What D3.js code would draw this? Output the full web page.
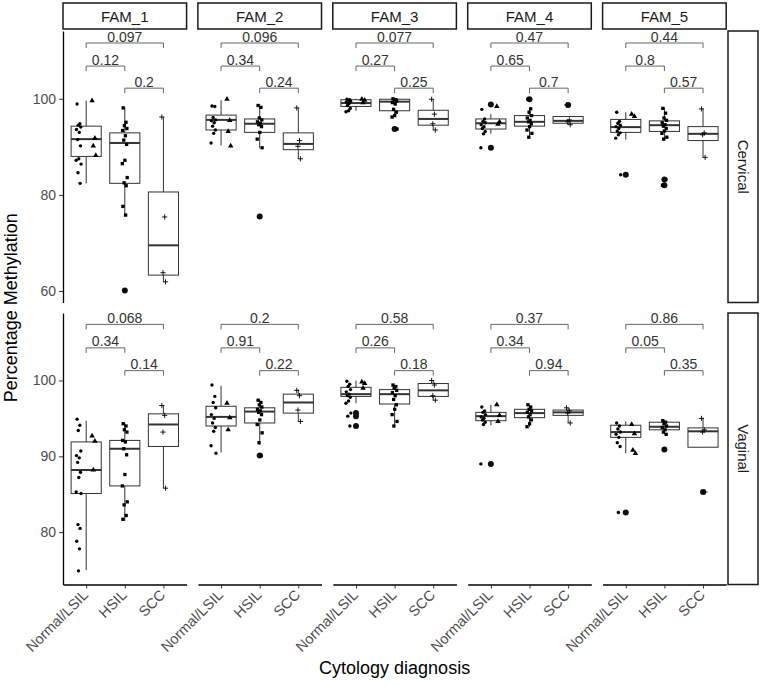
<!DOCTYPE html>
<html>
<head>
<meta charset="utf-8">
<script src="https://cdn.jsdelivr.net/npm/d3@7"></script>
<style>
  body { margin: 0; background: #fff; }
  text { font-family: "Liberation Sans", Arial, sans-serif; }
</style>
</head>
<body>
<svg id="chart" width="761" height="686"></svg>
<script>
// --- categories ---
const fams = ["FAM_1", "FAM_2", "FAM_3", "FAM_4", "FAM_5"];
const sites = ["Cervical", "Vaginal"];
const groups = ["Normal/LSIL", "HSIL", "SCC"];

// --- y axis ticks and limits per row ---
const cervicalTicks = [60, 80, 100];
const vaginalTicks = [80, 90, 100];
const cervicalLimits = [57.6, 114.1];
const vaginalLimits = [73.1, 108.9];

// --- box stats: site, fam, group, lower whisker, q1, median, q3, upper whisker ---
const boxStats = [
  ["Cervical", "FAM_1", "Normal/LSIL", 82.4, 88.0, 91.6, 94.3, 99.6],
  ["Cervical", "FAM_1", "HSIL",        75.5, 82.4, 90.8, 92.9, 98.2],
  ["Cervical", "FAM_1", "SCC",         61.9, 63.3, 69.5, 80.6, 96.2],
  ["Cervical", "FAM_2", "Normal/LSIL", 90.3, 93.5, 95.6, 96.6, 99.7],
  ["Cervical", "FAM_2", "HSIL",        89.7, 93.0, 94.8, 95.8, 98.8],
  ["Cervical", "FAM_2", "SCC",         87.5, 89.4, 90.6, 92.9, 98.1],
  ["Cervical", "FAM_3", "Normal/LSIL", 97.5, 98.4, 99.1, 99.8, 100.0],
  ["Cervical", "FAM_3", "HSIL",        96.2, 97.5, 99.4, 99.9, 100.0],
  ["Cervical", "FAM_3", "SCC",         93.5, 94.5, 95.8, 97.6, 99.9],
  ["Cervical", "FAM_4", "Normal/LSIL", 92.7, 93.7, 94.9, 95.8, 96.8],
  ["Cervical", "FAM_4", "HSIL",        92.0, 94.3, 95.2, 96.5, 97.9],
  ["Cervical", "FAM_4", "SCC",         94.6, 94.9, 95.4, 96.3, 96.3],
  ["Cervical", "FAM_5", "Normal/LSIL", 91.5, 93.0, 94.1, 95.7, 97.2],
  ["Cervical", "FAM_5", "HSIL",        91.6, 93.2, 94.5, 95.4, 98.2],
  ["Cervical", "FAM_5", "SCC",         87.8, 91.3, 92.7, 94.2, 97.9],
  ["Vaginal",  "FAM_1", "Normal/LSIL", 75.0, 85.1, 88.2, 91.9, 94.7],
  ["Vaginal",  "FAM_1", "HSIL",        81.5, 86.1, 91.0, 92.1, 94.4],
  ["Vaginal",  "FAM_1", "SCC",         85.8, 91.3, 94.2, 95.6, 96.7],
  ["Vaginal",  "FAM_2", "Normal/LSIL", 90.5, 94.0, 95.2, 96.6, 99.3],
  ["Vaginal",  "FAM_2", "HSIL",        91.5, 94.4, 95.9, 96.4, 97.5],
  ["Vaginal",  "FAM_2", "SCC",         94.6, 95.7, 97.1, 98.2, 98.8],
  ["Vaginal",  "FAM_3", "Normal/LSIL", 97.0, 97.9, 98.2, 99.1, 100.0],
  ["Vaginal",  "FAM_3", "HSIL",        94.0, 96.9, 98.2, 98.8, 99.4],
  ["Vaginal",  "FAM_3", "SCC",         97.4, 97.9, 98.7, 99.6, 100.0],
  ["Vaginal",  "FAM_4", "Normal/LSIL", 94.1, 94.7, 95.3, 95.8, 96.8],
  ["Vaginal",  "FAM_4", "HSIL",        93.9, 95.1, 95.7, 96.2, 96.8],
  ["Vaginal",  "FAM_4", "SCC",         94.4, 95.4, 95.8, 96.1, 96.4],
  ["Vaginal",  "FAM_5", "Normal/LSIL", 90.4, 92.5, 93.2, 94.1, 94.6],
  ["Vaginal",  "FAM_5", "HSIL",        92.9, 93.5, 93.9, 94.5, 94.7],
  ["Vaginal",  "FAM_5", "SCC",         91.2, 91.2, 93.3, 93.75, 95.1]
];

// --- boxplot outliers: site, fam, group, value ---
const outliers = [
  ["Cervical", "FAM_1", "HSIL", 60.1],
  ["Cervical", "FAM_2", "HSIL", 75.5],
  ["Cervical", "FAM_3", "HSIL", 93.7],
  ["Cervical", "FAM_4", "Normal/LSIL", 98.8],
  ["Cervical", "FAM_4", "Normal/LSIL", 89.8],
  ["Cervical", "FAM_4", "HSIL", 99.9],
  ["Cervical", "FAM_4", "SCC", 98.7],
  ["Cervical", "FAM_5", "Normal/LSIL", 84.2],
  ["Cervical", "FAM_5", "HSIL", 83.2],
  ["Cervical", "FAM_5", "HSIL", 82.0],
  ["Vaginal", "FAM_2", "HSIL", 90.1],
  ["Vaginal", "FAM_3", "Normal/LSIL", 95.7],
  ["Vaginal", "FAM_3", "Normal/LSIL", 95.3],
  ["Vaginal", "FAM_3", "Normal/LSIL", 94.0],
  ["Vaginal", "FAM_4", "Normal/LSIL", 89.0],
  ["Vaginal", "FAM_5", "Normal/LSIL", 82.6],
  ["Vaginal", "FAM_5", "HSIL", 90.9],
  ["Vaginal", "FAM_5", "SCC", 85.3]
];

// --- jittered samples: site, fam, group, shape (Normal / LSIL / HSIL / SCC), values ---
const samples = [
  ["Cervical", "FAM_1", "Normal/LSIL", "Normal", [98.9, 94.8, 94.5, 94.1, 93.6, 93.0, 91.5, 90.2, 87.5, 87.2, 86.4, 84.6, 82.4]],
  ["Cervical", "FAM_1", "Normal/LSIL", "LSIL",   [99.6, 91.8, 90.2, 88.2]],
  ["Cervical", "FAM_1", "HSIL", "HSIL", [98.1, 95.1, 94.4, 93.8, 93.4, 92.3, 91.4, 90.5, 87.2, 86.5, 83.6, 82.5, 81.9, 77.6, 75.8, 60.1]],
  ["Cervical", "FAM_1", "SCC", "SCC",   [96.2, 75.4, 63.8, 61.9]],
  ["Cervical", "FAM_2", "Normal/LSIL", "Normal", [98.5, 98.4, 96.1, 95.6, 95.4, 95.0, 94.3, 93.5, 92.8, 90.8]],
  ["Cervical", "FAM_2", "Normal/LSIL", "LSIL",   [99.9, 95.5, 93.2, 90.2]],
  ["Cervical", "FAM_2", "HSIL", "HSIL", [98.6, 98.2, 96.0, 95.6, 95.2, 94.9, 94.6, 94.2, 93.0, 91.6, 89.8, 75.5]],
  ["Cervical", "FAM_2", "SCC", "SCC",   [98.1, 91.3, 90.1, 87.5]],
  ["Cervical", "FAM_3", "Normal/LSIL", "Normal", [99.9, 99.8, 99.7, 99.5, 99.3, 99.0, 98.6, 98.0, 97.5, 97.3]],
  ["Cervical", "FAM_3", "Normal/LSIL", "LSIL",   [99.9, 99.7, 99.2]],
  ["Cervical", "FAM_3", "HSIL", "HSIL", [100.0, 99.8, 99.6, 99.5, 99.2, 98.9, 97.8, 97.2, 96.5, 96.2, 93.7]],
  ["Cervical", "FAM_3", "SCC", "SCC",   [99.9, 96.8, 94.8, 93.5]],
  ["Cervical", "FAM_4", "Normal/LSIL", "Normal", [97.8, 95.8, 95.3, 95.0, 94.6, 94.2, 93.8, 93.2, 92.7, 89.8]],
  ["Cervical", "FAM_4", "Normal/LSIL", "LSIL",   [98.4, 95.2, 94.7]],
  ["Cervical", "FAM_4", "HSIL", "HSIL", [99.9, 97.9, 97.2, 96.5, 96.0, 95.5, 95.2, 94.8, 94.2, 93.5, 92.8, 92.0]],
  ["Cervical", "FAM_4", "SCC", "SCC",   [98.7, 95.6, 95.2, 94.6]],
  ["Cervical", "FAM_5", "Normal/LSIL", "Normal", [97.2, 95.3, 94.9, 94.5, 94.2, 93.8, 93.3, 92.9, 92.5, 91.8, 84.2]],
  ["Cervical", "FAM_5", "Normal/LSIL", "LSIL",   [96.8, 96.3]],
  ["Cervical", "FAM_5", "HSIL", "HSIL", [98.0, 97.0, 96.0, 95.5, 95.0, 94.6, 94.3, 93.8, 93.3, 92.8, 92.0, 91.6, 83.2, 82.0]],
  ["Cervical", "FAM_5", "SCC", "SCC",   [97.9, 92.9, 92.5, 87.8]],
  ["Vaginal", "FAM_1", "Normal/LSIL", "Normal", [94.9, 94.1, 93.4, 90.7, 90.1, 89.8, 89.2, 87.9, 87.2, 85.3, 85.1, 81.0, 80.5, 78.8, 77.8, 74.9]],
  ["Vaginal", "FAM_1", "Normal/LSIL", "LSIL",   [92.7, 92.0, 88.2]],
  ["Vaginal", "FAM_1", "HSIL", "HSIL", [94.3, 94.0, 93.5, 93.2, 92.1, 91.9, 91.0, 90.2, 87.6, 86.1, 84.0, 83.6, 82.2, 81.7]],
  ["Vaginal", "FAM_1", "SCC", "SCC",   [96.7, 95.4, 93.2, 85.8]],
  ["Vaginal", "FAM_2", "Normal/LSIL", "Normal", [99.4, 97.9, 97.1, 96.4, 95.5, 95.0, 94.4, 93.8, 93.3, 91.4, 90.4]],
  ["Vaginal", "FAM_2", "Normal/LSIL", "LSIL",   [97.0, 95.1, 93.5]],
  ["Vaginal", "FAM_2", "HSIL", "HSIL", [97.4, 97.1, 96.8, 96.5, 96.2, 96.0, 95.8, 95.5, 94.8, 94.2, 93.1, 91.8, 90.1]],
  ["Vaginal", "FAM_2", "SCC", "SCC",   [98.7, 98.0, 96.1, 94.6]],
  ["Vaginal", "FAM_3", "Normal/LSIL", "Normal", [99.9, 99.5, 99.2, 98.8, 98.5, 98.2, 98.0, 97.8, 97.3, 97.0, 95.7, 95.3, 94.0]],
  ["Vaginal", "FAM_3", "Normal/LSIL", "LSIL",   [99.8, 99.6, 99.0]],
  ["Vaginal", "FAM_3", "HSIL", "HSIL", [99.4, 99.2, 99.0, 98.7, 98.4, 98.0, 97.5, 96.8, 96.2, 95.5, 94.6, 94.0]],
  ["Vaginal", "FAM_3", "SCC", "SCC",   [100.0, 99.4, 98.0, 97.4]],
  ["Vaginal", "FAM_4", "Normal/LSIL", "Normal", [96.5, 96.0, 95.8, 95.5, 95.2, 95.0, 94.8, 94.5, 94.2, 89.0]],
  ["Vaginal", "FAM_4", "Normal/LSIL", "LSIL",   [96.8, 95.4, 94.6]],
  ["Vaginal", "FAM_4", "HSIL", "HSIL", [96.8, 96.5, 96.2, 96.0, 95.8, 95.5, 95.2, 94.8, 94.3, 93.9]],
  ["Vaginal", "FAM_4", "SCC", "SCC",   [96.4, 96.0, 95.7, 94.4]],
  ["Vaginal", "FAM_5", "Normal/LSIL", "Normal", [94.4, 94.0, 93.6, 93.2, 92.9, 92.5, 91.8, 91.3, 82.6]],
  ["Vaginal", "FAM_5", "Normal/LSIL", "LSIL",   [94.2, 93.0, 90.8, 90.4]],
  ["Vaginal", "FAM_5", "HSIL", "HSIL", [94.7, 94.5, 94.3, 94.0, 93.8, 93.5, 93.2, 92.9, 90.9]],
  ["Vaginal", "FAM_5", "SCC", "SCC",   [95.0, 93.5, 93.2, 85.3]]
];

// --- p-values: site, fam, [Normal/LSIL vs SCC, Normal/LSIL vs HSIL, HSIL vs SCC] ---
const comparisons = [["Normal/LSIL", "SCC"], ["Normal/LSIL", "HSIL"], ["HSIL", "SCC"]];
const cervicalBracketY = [111.6, 106.8, 102.2];
const vaginalBracketY = [107.4, 104.3, 101.3];
const pValues = [
  ["Cervical", "FAM_1", ["0.097", "0.12", "0.2"]],
  ["Cervical", "FAM_2", ["0.096", "0.34", "0.24"]],
  ["Cervical", "FAM_3", ["0.077", "0.27", "0.25"]],
  ["Cervical", "FAM_4", ["0.47", "0.65", "0.7"]],
  ["Cervical", "FAM_5", ["0.44", "0.8", "0.57"]],
  ["Vaginal",  "FAM_1", ["0.068", "0.34", "0.14"]],
  ["Vaginal",  "FAM_2", ["0.2", "0.91", "0.22"]],
  ["Vaginal",  "FAM_3", ["0.58", "0.26", "0.18"]],
  ["Vaginal",  "FAM_4", ["0.37", "0.34", "0.94"]],
  ["Vaginal",  "FAM_5", ["0.86", "0.05", "0.35"]]
];

// --- layout ---
const svg = d3.select("#chart");
const panelLeft = 63, panelW = 123.6, gapX = 11.3;
const rowTop = {Cervical: 31, Vaginal: 313}, rowH = 271.5;
const stripTop = 3, stripH = 26, stripRightX = 728, stripRightW = 30;
const jitter = [-1.6, 1.2, -0.4, 2.1, -2.2, 0.6, -1.0, 1.8, 0.1, -2.5, 2.4, -0.7, 1.4, -1.9, 0.8, -0.2];
const dodge = {Normal: -7.5, LSIL: 7.5, HSIL: 0, SCC: 0};

const x = d3.scalePoint().domain(groups).range([0, panelW]).padding(0.6);
const boxW = x.step() * 0.78;

const yScale = {
  Cervical: d3.scaleLinear().domain(cervicalLimits).range([rowTop.Cervical + rowH, rowTop.Cervical]),
  Vaginal: d3.scaleLinear().domain(vaginalLimits).range([rowTop.Vaginal + rowH, rowTop.Vaginal])
};
const yTicks = {Cervical: cervicalTicks, Vaginal: vaginalTicks};
const bracketY = {Cervical: cervicalBracketY, Vaginal: vaginalBracketY};
const panelX = f => panelLeft + fams.indexOf(f) * (panelW + gapX);

// --- top strips ---
fams.forEach(f => {
  svg.append("rect")
    .attr("x", panelX(f)).attr("y", stripTop)
    .attr("width", panelW).attr("height", stripH)
    .attr("fill", "#fff").attr("stroke", "#1a1a1a").attr("stroke-width", 1.5);
  svg.append("text")
    .attr("x", panelX(f) + panelW / 2).attr("y", stripTop + stripH / 2 + 5.5)
    .attr("text-anchor", "middle").style("font-size", "15px").attr("fill", "#1a1a1a")
    .text(f);
});

// --- right strips ---
sites.forEach(s => {
  svg.append("rect")
    .attr("x", stripRightX).attr("y", rowTop[s])
    .attr("width", stripRightW).attr("height", rowH)
    .attr("fill", "#fff").attr("stroke", "#1a1a1a").attr("stroke-width", 1.5);
  svg.append("text")
    .attr("transform", `translate(${stripRightX + stripRightW / 2 - 5.5},${rowTop[s] + rowH / 2}) rotate(90)`)
    .attr("text-anchor", "middle").style("font-size", "15px").attr("fill", "#1a1a1a")
    .text(s);
});

// --- panels ---
sites.forEach(s => {
  const y = yScale[s];
  fams.forEach(f => {
    const g = svg.append("g").attr("transform", `translate(${panelX(f)},0)`);

    // boxes
    const boxes = boxStats.filter(d => d[0] === s && d[1] === f);
    boxes.forEach(d => {
      const cx = x(d[2]);
      g.append("line").attr("x1", cx).attr("x2", cx)
        .attr("y1", y(d[3])).attr("y2", y(d[7]))
        .attr("stroke", "#333").attr("stroke-width", 1);
      g.append("rect")
        .attr("x", cx - boxW / 2).attr("width", boxW)
        .attr("y", y(d[6])).attr("height", y(d[4]) - y(d[6]))
        .attr("fill", "#fff").attr("stroke", "#333").attr("stroke-width", 1);
      g.append("line").attr("x1", cx - boxW / 2).attr("x2", cx + boxW / 2)
        .attr("y1", y(d[5])).attr("y2", y(d[5]))
        .attr("stroke", "#333").attr("stroke-width", 2);
    });

    // outliers
    g.selectAll("circle.out")
      .data(outliers.filter(d => d[0] === s && d[1] === f))
      .enter().append("circle")
        .attr("class", "out")
        .attr("cx", d => x(d[2])).attr("cy", d => y(d[3]))
        .attr("r", 3).attr("fill", "#111");

    // jittered samples
    samples.filter(d => d[0] === s && d[1] === f).forEach(d => {
      const shape = d[3];
      d[4].forEach((v, i) => {
        const px = x(d[2]) + dodge[shape] + jitter[i % jitter.length];
        const py = y(v);
        if (shape === "Normal") {
          g.append("circle").attr("cx", px).attr("cy", py).attr("r", 1.7).attr("fill", "#000");
        } else if (shape === "LSIL") {
          g.append("path").attr("transform", `translate(${px},${py})`)
            .attr("d", d3.symbol().type(d3.symbolTriangle).size(13)()).attr("fill", "#000");
        } else if (shape === "HSIL") {
          g.append("path").attr("transform", `translate(${px},${py})`)
            .attr("d", d3.symbol().type(d3.symbolSquare).size(11)()).attr("fill", "#000");
        } else {
          g.append("path").attr("transform", `translate(${px},${py})`)
            .attr("d", "M-2.6,0H2.6M0,-2.6V2.6")
            .attr("stroke", "#000").attr("stroke-width", 0.9).attr("fill", "none");
        }
      });
    });

    // brackets with p-values
    const pv = pValues.find(d => d[0] === s && d[1] === f)[2];
    comparisons.forEach((c, k) => {
      const x1 = x(c[0]), x2 = x(c[1]), yb = y(bracketY[s][k]);
      g.append("path")
        .attr("d", `M${x1},${yb + 5}V${yb}H${x2}V${yb + 5}`)
        .attr("fill", "none").attr("stroke", "#555").attr("stroke-width", 0.9);
      g.append("text")
        .attr("x", (x1 + x2) / 2).attr("y", yb - 1.5)
        .attr("text-anchor", "middle").style("font-size", "14px").attr("fill", "#333")
        .text(pv[k]);
    });

    // y axis on first column
    if (f === fams[0]) {
      const ax = g.append("g")
        .call(d3.axisLeft(y).tickValues(yTicks[s]).tickSize(4).tickSizeOuter(0).tickPadding(3));
      ax.select(".domain").attr("stroke", "#000").attr("stroke-width", 1.3);
      ax.selectAll(".tick line").attr("stroke", "#333");
      ax.selectAll(".tick text").attr("fill", "#4d4d4d").style("font-size", "14px")
        .style("font-family", '"Liberation Sans", Arial, sans-serif');
    }

    // x axis on bottom row
    if (s === sites[sites.length - 1]) {
      const ax = g.append("g")
        .attr("transform", `translate(0,${rowTop[s] + rowH})`)
        .call(d3.axisBottom(x).tickSize(4).tickSizeOuter(0));
      ax.select(".domain").attr("stroke", "#000").attr("stroke-width", 1.3);
      ax.selectAll(".tick line").attr("stroke", "#333");
      ax.selectAll(".tick text")
        .attr("fill", "#4d4d4d").style("font-size", "14.5px")
        .style("font-family", '"Liberation Sans", Arial, sans-serif')
        .attr("text-anchor", "end")
        .attr("dy", null)
        .attr("dominant-baseline", "hanging")
        .attr("transform", "translate(-5,4) rotate(-45)")
        .attr("y", 0).attr("x", 0);
    }
  });
});

// --- axis titles ---
svg.append("text")
  .attr("x", panelLeft + (5 * panelW + 4 * gapX) / 2).attr("y", 674)
  .attr("text-anchor", "middle").style("font-size", "18px").attr("fill", "#000")
  .text("Cytology diagnosis");

svg.append("text")
  .attr("transform", `translate(17,${(rowTop.Cervical + rowTop.Vaginal + rowH) / 2}) rotate(-90)`)
  .attr("text-anchor", "middle").style("font-size", "18px").attr("fill", "#000")
  .text("Percentage Methylation");
</script>
</body>
</html>
